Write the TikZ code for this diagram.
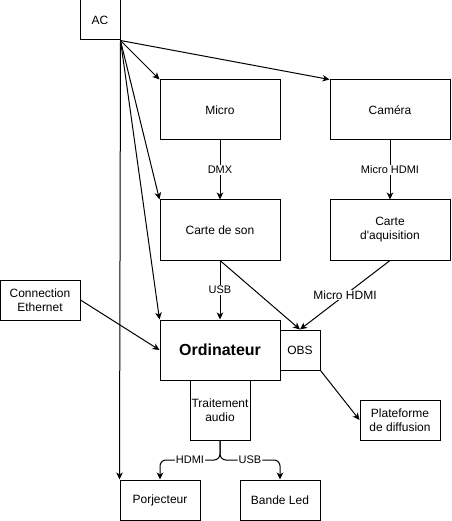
\documentclass[tikz,border=0pt]{standalone}
\usepackage{fontspec}
\setmainfont{Liberation Sans}[Ligatures=TeXOff]
\usetikzlibrary{arrows.meta}
\begin{document}
\begin{tikzpicture}[x=1pt,y=-1pt,
  box/.style={draw, line width=1pt, inner sep=0pt, align=center, fill=white,
    font=\fontsize{12}{14}\selectfont},
  conn/.style={line width=1pt, -{Stealth[length=7pt,width=6.5pt,inset=2pt]}},
  lab/.style={fill=white, inner sep=1pt, font=\fontsize{11}{13}\selectfont},
  labbig/.style={fill=white, inner sep=1pt, font=\fontsize{12}{14}\selectfont}
]
\useasboundingbox (0,0) rectangle (451,521);
\node[box, minimum width=40pt, minimum height=40pt] (ac) at (100,20) {AC};
\node[box, minimum width=120pt, minimum height=60pt] (micro) at (220,110) {Micro};
\node[box, minimum width=120pt, minimum height=60pt] (cam) at (390,110) {Caméra};
\node[box, minimum width=120pt, minimum height=60pt] (cs) at (220,230) {Carte de son};
\node[box, minimum width=120pt, minimum height=60pt] (caq) at (390,230) {Carte\\d'aquisition};
\node[box, minimum width=80pt, minimum height=40pt] (eth) at (40,300) {Connection\\Ethernet};
\node[box, minimum width=120pt, minimum height=60pt, font=\fontsize{16}{19}\selectfont\bfseries] (ord) at (220,350) {Ordinateur};
\node[box, minimum width=40pt, minimum height=40pt] (obs) at (300,350) {OBS};
\node[box, minimum width=60pt, minimum height=60pt] (ta) at (220,410) {Traitement\\audio};
\node[box, minimum width=80pt, minimum height=40pt] (plat) at (400,420) {Plateforme\\de diffusion};
\node[box, minimum width=80pt, minimum height=40pt] (porj) at (160,500) {Porjecteur};
\node[box, minimum width=80pt, minimum height=40pt] (led) at (280,500) {Bande Led};

\coordinate (split) at (220,460);
\coordinate (lt) at (160,460);
\coordinate (rt) at (280,460);

\draw[conn] (ac.south east) -- (micro.north west);
\draw[conn] (ac.south east) -- (cam.north west);
\draw[conn] (ac.south east) -- (cs.north west);
\draw[conn] (ac.south east) -- (ord.north west);
\draw[conn] (ac.south east) -- (porj.north west);
\draw[conn] (micro.south) -- node[lab]{DMX} (cs.north);
\draw[conn] (cam.south) -- node[lab]{Micro HDMI} (caq.north);
\draw[conn] (cs.south) -- node[lab, pos=0.5]{USB} (ord.north);
\draw[conn] (cs.south) -- (obs.north);
\draw[conn] (caq.south) -- node[labbig]{Micro HDMI} (obs.north);
\draw[conn] (eth.east) -- (ord.west);
\draw[conn] (obs.south east) -- (plat.west);
\draw[conn, rounded corners=6pt] (ta.south) -- (split) -- node[lab]{HDMI} (lt) -- (porj.north);
\draw[conn, rounded corners=6pt] (ta.south) -- (split) -- node[lab]{USB} (rt) -- (led.north);
\end{tikzpicture}
\end{document}
